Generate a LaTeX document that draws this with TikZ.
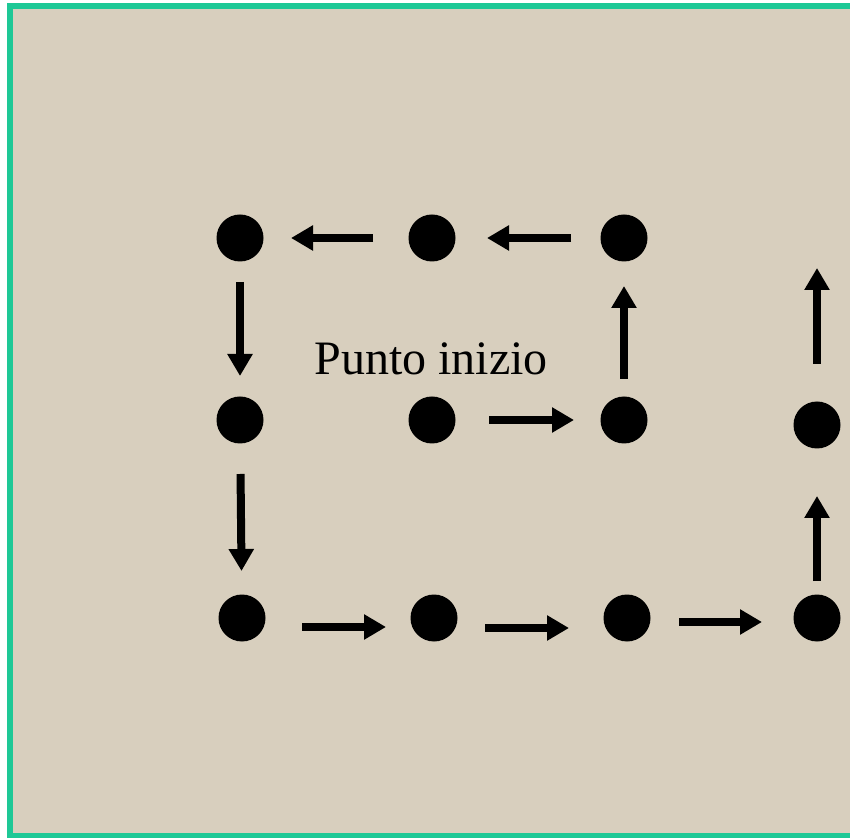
\documentclass[tikz,border=0pt]{standalone}
\usepackage{fontspec}
\setmainfont{Liberation Serif}
\usetikzlibrary{positioning,arrows.meta}
\definecolor{canvas}{RGB}{216,207,190}
\definecolor{frame}{RGB}{30,200,150}
\begin{document}
\begin{tikzpicture}[
			x=0.5pt, y=-0.5pt,
			dot/.style={draw=none, fill=black, circle, inner sep=0pt, minimum size=23.5pt},
			>={Triangle[length=11pt, width=12pt]},
			every path/.style={line width=4pt},
		]
		\useasboundingbox (0,0) rectangle (850,838);
		\fill[white] (0,0) rectangle (850,838);
		\draw[frame, fill=canvas, line width=3pt] (10,6) rectangle (860,836);

		% Top row
		\node[dot] (T1) at (240,238) {};
		\node[dot] (T2) at (432,238) {};
		\node[dot] (T3) at (624,238) {};
		\coordinate (T4) at (817,238);

		% Middle row
		\node[dot] (M1) at (240,420) {};
		\node[dot] (M2) at (432,420) {};
		\node[dot] (M3) at (624,420) {};
		\node[dot] (M4) at (817,425) {};

		% Bottom row
		\node[dot] (B1) at (242,618) {};
		\node[dot] (B2) at (434,618) {};
		\node[dot] (B3) at (627,618) {};
		\node[dot] (B4) at (817,618) {};

		% Label
		\node[anchor=base, font=\fontsize{24}{28}\selectfont] (start) at (431,375) {Punto inizio};

		% Path from the start point
		\draw[->, shorten <=14.75pt, shorten >=11.25pt] (M2) -- (M3);
		\draw[->, shorten <=6.75pt, shorten >=10.25pt] (M3) -- (T3);
		\draw[->, shorten <=12.75pt, shorten >=13.75pt] (T3) -- (T2);
		\draw[->, shorten <=15.75pt, shorten >=11.75pt] (T2) -- (T1);
		\draw[->, shorten <=8.25pt, shorten >=8.25pt] (T1) -- (M1);
		\draw[->, shorten <=13.25pt, shorten >=9.75pt] (M1) -- (B1);

		% Bottom row, slightly below the dots
		\draw[->, shorten <=16.25pt, shorten >=10.25pt] ([yshift=-4.5pt]B1.east) -- ([yshift=-4.5pt]B2.west);
		\draw[->, shorten <=11.75pt, shorten >=15.25pt] ([yshift=-5pt]B2.east) -- ([yshift=-5pt]B3.west);
		\draw[->, shorten <=12.25pt, shorten >=13.75pt] ([yshift=-2pt]B3.east) -- ([yshift=-2pt]B4.west);

		% Right column
		\draw[->, shorten <=4.75pt, shorten >=21.75pt] (B4.north) -- (M4.south);
		\draw[->, shorten <=16.75pt, shorten >=15pt] (M4.north) -- (T4);
	\end{tikzpicture}
\end{document}
